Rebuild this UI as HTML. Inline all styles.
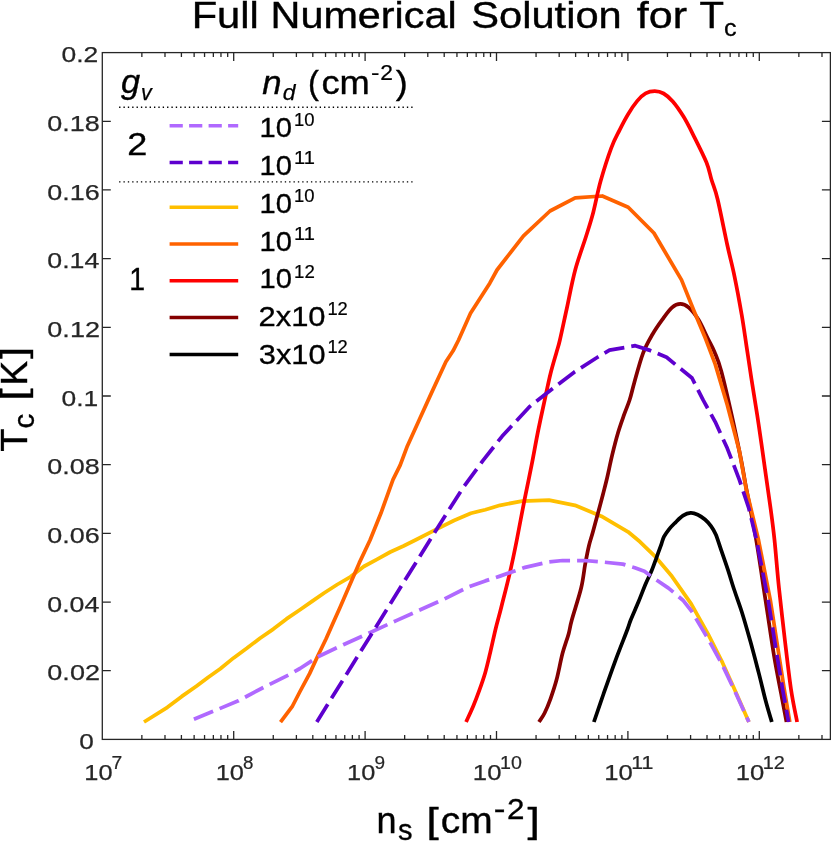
<!DOCTYPE html>
<html><head><meta charset="utf-8"><title>Full Numerical Solution for Tc</title>
<style>html,body{margin:0;padding:0;background:#fff}body{width:831px;height:841px;overflow:hidden}svg{display:block;will-change:transform}text{font-family:"Liberation Sans",sans-serif}</style></head><body>
<svg width="831" height="841" viewBox="0 0 831 841">
<rect width="831" height="841" fill="#fff"/>
<clipPath id="cp"><rect x="102.3" y="52.6" width="728.1" height="686.8"/></clipPath>
<g clip-path="url(#cp)" fill="none" stroke-linejoin="round" stroke-linecap="butt">
<path d="M144.0,722.0 L167.4,707.3 L181.8,696.4 L196.3,686.3 L208.3,677.2 L220.3,668.8 L233.6,657.9 L246.8,648.3 L260.0,638.2 L273.3,629.1 L286.5,618.9 L300.0,609.8 L312.0,601.4 L324.1,593.0 L337.3,584.5 L350.5,576.8 L363.8,566.5 L377.0,559.3 L390.3,552.0 L403.5,546.0 L415.5,540.0 L434.8,530.1 L454.0,520.5 L470.9,513.3 L485.3,509.7 L500.0,505.3 L522.0,501.1 L549.0,500.2 L575.0,505.3 L601.3,516.2 L628.0,531.8 L640.0,541.8 L655.0,556.3 L671.9,576.3 L691.2,603.8 L708.0,633.9 L722.5,662.7 L734.5,689.2 L748.9,722.0" stroke="#FFBF00" stroke-width="3.75"/>
<path d="M593.9,722.0 C595.5,717.3 599.9,704.3 603.5,694.0 C607.1,683.7 611.5,671.1 615.5,660.3 C619.5,649.5 625.1,635.7 627.6,629.0 C630.1,622.3 628.9,624.5 630.7,620.0 C632.5,615.5 636.0,607.8 638.5,601.8 C641.0,595.8 643.5,589.0 645.7,583.8 C647.9,578.6 649.9,574.9 651.7,570.5 C653.5,566.1 655.0,561.7 656.6,557.3 C658.2,552.9 660.2,547.5 661.4,544.1 C662.6,540.7 662.7,539.1 664.0,536.6 C665.3,534.1 667.1,531.7 669.0,529.3 C670.9,526.9 673.3,524.6 675.6,522.3 C677.9,520.0 680.5,517.2 683.0,515.6 C685.5,514.0 688.2,513.0 690.7,512.9 C693.2,512.8 695.4,513.6 697.8,514.7 C700.2,515.8 702.8,517.6 705.0,519.5 C707.2,521.4 709.2,523.6 711.0,526.1 C712.8,528.6 714.1,530.5 715.8,534.5 C717.5,538.5 719.2,544.4 721.2,550.2 C723.2,556.0 725.6,562.8 727.8,569.4 C730.0,576.0 731.9,582.9 734.3,590.0 C736.6,597.1 739.2,603.7 741.9,612.2 C744.6,620.7 747.5,631.1 750.3,641.1 C753.1,651.1 756.0,662.4 758.6,672.4 C761.2,682.4 763.6,693.0 765.8,701.3 C768.0,709.6 770.8,718.5 771.8,722.0" stroke="#000000" stroke-width="3.75"/>
<path d="M539.0,722.0 C539.9,720.5 542.6,717.2 544.5,713.3 C546.4,709.4 548.5,704.4 550.5,698.8 C552.5,693.2 554.6,687.2 556.6,679.6 C558.6,672.0 560.6,660.7 562.6,653.1 C564.6,645.5 567.1,639.4 568.6,633.9 C570.1,628.4 569.7,627.7 571.8,620.0 C573.9,612.3 579.0,597.1 581.2,587.8 C583.4,578.5 583.9,571.2 585.2,564.2 C586.5,557.2 587.7,550.8 589.0,545.5 C590.3,540.2 591.4,537.4 592.8,532.2 C594.2,527.0 595.9,520.7 597.6,514.5 C599.3,508.3 601.3,500.8 602.8,495.0 C604.3,489.2 605.0,486.6 606.6,480.0 C608.2,473.4 610.2,463.3 612.1,455.4 C614.0,447.5 616.1,439.3 618.1,432.5 C620.1,425.7 622.3,419.8 624.2,414.4 C626.1,409.0 627.9,405.2 629.6,400.0 C631.3,394.8 632.0,390.8 634.2,383.0 C636.4,375.2 639.9,361.5 643.0,353.3 C646.1,345.1 649.5,339.6 652.7,334.0 C655.9,328.4 659.1,324.0 662.3,319.6 C665.5,315.2 668.9,310.2 671.9,307.6 C674.9,305.0 677.5,303.9 680.3,303.9 C683.1,303.9 685.8,305.0 688.8,307.6 C691.8,310.2 695.2,314.4 698.4,319.6 C701.6,324.8 705.3,333.4 708.0,338.8 C710.7,344.2 712.3,346.6 714.5,352.0 C716.7,357.4 718.4,360.5 721.3,371.3 C724.2,382.1 728.8,402.2 732.1,417.0 C735.4,431.8 738.8,448.3 741.2,460.3 C743.6,472.3 743.9,475.9 746.4,489.2 C748.9,502.5 753.0,521.5 756.2,540.0 C759.4,558.5 762.5,580.8 765.5,600.0 C768.5,619.2 771.4,639.8 774.0,655.5 C776.6,671.2 779.1,682.9 781.2,694.0 C783.3,705.1 785.6,717.3 786.5,722.0" stroke="#840000" stroke-width="3.75"/>
<path d="M280.5,722.0 L292.5,706.0 L300.0,691.5 L309.6,673.6 L318.0,655.5 L326.1,638.7 L332.5,624.2 L340.0,607.4 L352.0,579.7 L359.3,562.9 L370.1,540.0 L380.9,513.3 L393.0,479.6 L400.2,465.2 L407.4,445.9 L419.4,419.4 L431.5,392.9 L445.9,361.7 L453.1,350.8 L458.6,340.0 L470.5,313.3 L489.8,283.2 L497.0,270.0 L523.5,235.8 L550.0,211.0 L575.2,197.8 L602.3,196.0 L628.2,207.2 L653.9,233.0 L681.5,279.9 L693.6,310.0 L705.6,338.8 L715.2,364.1 L727.3,405.0 L739.3,450.7 L746.2,489.2 L758.5,540.0 L770.3,600.0 L777.5,646.0 L784.2,689.0 L789.8,722.0" stroke="#FF6200" stroke-width="3.75"/>
<path d="M466.1,722.0 C467.3,719.3 471.1,711.3 473.3,706.0 C475.5,700.7 477.3,696.0 479.3,690.4 C481.3,684.8 483.5,678.6 485.3,672.4 C487.1,666.2 488.4,660.3 490.1,653.1 C491.8,645.9 493.8,636.5 495.6,629.0 C497.4,621.5 498.7,617.6 501.1,608.0 C503.5,598.4 507.6,582.6 510.2,571.3 C512.8,560.0 514.4,552.1 516.8,540.0 C519.2,527.9 522.2,511.3 524.7,498.8 C527.2,486.3 529.3,476.8 531.6,465.2 C533.9,453.6 536.1,440.6 538.5,429.0 C540.9,417.4 543.7,404.6 545.7,395.4 C547.7,386.2 548.7,380.9 550.5,373.7 C552.3,366.5 555.0,357.6 556.6,352.0 C558.2,346.4 558.2,347.2 559.9,340.0 C561.6,332.8 564.2,320.2 566.8,308.5 C569.3,296.8 572.0,282.0 575.2,270.0 C578.4,258.0 583.1,245.9 586.1,236.3 C589.1,226.7 590.9,221.3 593.3,212.2 C595.7,203.1 597.5,192.2 600.5,181.5 C603.5,170.8 608.1,156.4 611.3,147.8 C614.5,139.2 616.9,135.4 619.7,129.8 C622.5,124.2 625.2,119.0 628.1,114.2 C631.0,109.4 634.4,104.4 637.3,100.9 C640.2,97.4 642.7,95.0 645.6,93.4 C648.5,91.8 651.8,91.2 654.8,91.2 C657.8,91.2 660.6,91.8 663.6,93.5 C666.6,95.2 669.5,97.7 672.8,101.5 C676.1,105.3 680.1,111.1 683.5,116.6 C686.9,122.1 689.3,127.0 693.1,134.6 C696.9,142.2 703.3,154.7 706.4,162.3 C709.5,169.9 709.7,173.8 711.6,180.0 C713.5,186.2 715.0,188.5 717.6,199.3 C720.2,210.1 724.5,232.2 727.3,245.0 C730.1,257.8 732.1,264.7 734.5,276.3 C736.9,287.9 739.7,303.2 741.7,314.8 C743.7,326.4 744.9,335.6 746.5,346.1 C748.1,356.6 749.3,365.0 751.3,378.0 C753.3,391.0 756.2,408.1 758.6,424.2 C761.0,440.3 763.8,460.8 765.8,474.8 C767.8,488.9 769.1,497.6 770.6,508.5 C772.1,519.4 773.1,526.7 774.5,540.0 C775.9,553.3 777.2,571.2 779.0,588.1 C780.8,605.0 783.0,624.2 785.0,641.1 C787.0,658.0 789.0,675.7 791.0,689.2 C793.0,702.7 796.1,716.5 797.1,722.0" stroke="#FF0000" stroke-width="3.75"/>
<path d="M193.9,719.3 L238.4,700.8 L263.7,687.3 L288.9,674.8 L300.0,668.5 L318.0,656.7 L343.3,644.7 L369.8,632.7 L396.3,620.6 L420.3,609.8 L444.4,599.0 L468.5,586.9 L485.3,580.9 L500.0,576.1 L524.0,567.7 L548.1,562.1 L562.6,560.5 L584.2,560.5 L603.5,562.1 L622.7,564.1 L634.8,567.7 L644.4,571.3 L650.4,575.8 L668.5,588.1 L682.9,600.2 L691.5,611.0 L700.0,625.4 L708.0,638.7 L722.5,665.2 L734.5,690.4 L748.9,722.0" stroke="#B069FF" stroke-width="3.75" stroke-dasharray="20.8 7.05"/>
<path d="M316.8,722.0 L430.0,540.0 L444.4,516.9 L463.7,486.8 L482.9,460.6 L502.1,436.3 L529.5,406.7 L551.8,389.2 L574.2,372.2 L596.3,358.0 L609.5,350.1 L635.3,345.7 L649.2,350.1 L666.6,357.2 L679.3,367.7 L692.0,378.0 L703.2,400.2 L715.2,421.8 L727.3,448.3 L739.3,479.6 L748.9,508.5 L756.5,540.0 L768.2,600.2 L775.4,645.9 L782.6,689.2 L788.6,722.0" stroke="#5E00CE" stroke-width="3.75" stroke-dasharray="20.8 7.05"/>
</g>
<g stroke="#262626" stroke-width="1.3" fill="none">
<rect x="102.3" y="52.6" width="728.1" height="686.8"/>
<path d="M141.86,739.4v-4.5M141.86,52.6v4.5M164.99,739.4v-4.5M164.99,52.6v4.5M181.41,739.4v-4.5M181.41,52.6v4.5M194.14,739.4v-4.5M194.14,52.6v4.5M204.55,739.4v-4.5M204.55,52.6v4.5M213.35,739.4v-4.5M213.35,52.6v4.5M220.97,739.4v-4.5M220.97,52.6v4.5M227.69,739.4v-4.5M227.69,52.6v4.5M233.70,739.4v-8.5M233.70,52.6v8.5M273.26,739.4v-4.5M273.26,52.6v4.5M296.39,739.4v-4.5M296.39,52.6v4.5M312.81,739.4v-4.5M312.81,52.6v4.5M325.54,739.4v-4.5M325.54,52.6v4.5M335.95,739.4v-4.5M335.95,52.6v4.5M344.75,739.4v-4.5M344.75,52.6v4.5M352.37,739.4v-4.5M352.37,52.6v4.5M359.09,739.4v-4.5M359.09,52.6v4.5M365.10,739.4v-8.5M365.10,52.6v8.5M404.66,739.4v-4.5M404.66,52.6v4.5M427.79,739.4v-4.5M427.79,52.6v4.5M444.21,739.4v-4.5M444.21,52.6v4.5M456.94,739.4v-4.5M456.94,52.6v4.5M467.35,739.4v-4.5M467.35,52.6v4.5M476.15,739.4v-4.5M476.15,52.6v4.5M483.77,739.4v-4.5M483.77,52.6v4.5M490.49,739.4v-4.5M490.49,52.6v4.5M496.50,739.4v-8.5M496.50,52.6v8.5M536.06,739.4v-4.5M536.06,52.6v4.5M559.19,739.4v-4.5M559.19,52.6v4.5M575.61,739.4v-4.5M575.61,52.6v4.5M588.34,739.4v-4.5M588.34,52.6v4.5M598.75,739.4v-4.5M598.75,52.6v4.5M607.55,739.4v-4.5M607.55,52.6v4.5M615.17,739.4v-4.5M615.17,52.6v4.5M621.89,739.4v-4.5M621.89,52.6v4.5M627.90,739.4v-8.5M627.90,52.6v8.5M667.46,739.4v-4.5M667.46,52.6v4.5M690.59,739.4v-4.5M690.59,52.6v4.5M707.01,739.4v-4.5M707.01,52.6v4.5M719.74,739.4v-4.5M719.74,52.6v4.5M730.15,739.4v-4.5M730.15,52.6v4.5M738.95,739.4v-4.5M738.95,52.6v4.5M746.57,739.4v-4.5M746.57,52.6v4.5M753.29,739.4v-4.5M753.29,52.6v4.5M759.30,739.4v-8.5M759.30,52.6v8.5M798.86,739.4v-4.5M798.86,52.6v4.5M821.99,739.4v-4.5M821.99,52.6v4.5M102.3,670.72h8.5M830.4,670.72h-8.5M102.3,602.04h8.5M830.4,602.04h-8.5M102.3,533.36h8.5M830.4,533.36h-8.5M102.3,464.68h8.5M830.4,464.68h-8.5M102.3,396.00h8.5M830.4,396.00h-8.5M102.3,327.32h8.5M830.4,327.32h-8.5M102.3,258.64h8.5M830.4,258.64h-8.5M102.3,189.96h8.5M830.4,189.96h-8.5M102.3,121.28h8.5M830.4,121.28h-8.5"/>
</g>
<text x="191.66" y="28" font-size="37.5" fill="#000" stroke="#000" stroke-width="0.41" textLength="67.1" lengthAdjust="spacingAndGlyphs">Full</text>
<text x="270.59" y="28" font-size="37.5" fill="#000" stroke="#000" stroke-width="0.41" textLength="186.04" lengthAdjust="spacingAndGlyphs">Numerical</text>
<text x="471.33" y="28" font-size="37.5" fill="#000" stroke="#000" stroke-width="0.41" textLength="150.33" lengthAdjust="spacingAndGlyphs">Solution</text>
<text x="636.86" y="28" font-size="37.5" fill="#000" stroke="#000" stroke-width="0.41" textLength="50.17" lengthAdjust="spacingAndGlyphs">for</text>
<text x="699.6" y="28" font-size="37.5" fill="#000" stroke="#000" stroke-width="0.41" textLength="24.54" lengthAdjust="spacingAndGlyphs">T</text>
<text x="724.13" y="36.2" font-size="24.5" fill="#000" stroke="#000" stroke-width="0.27" textLength="12.56" lengthAdjust="spacingAndGlyphs">c</text>
<text x="79.25" y="748.9" font-size="22.8" fill="#262626" stroke="#262626" stroke-width="0.25" textLength="14.56" lengthAdjust="spacingAndGlyphs">0</text>
<text x="47.32" y="680.2" font-size="22.8" fill="#262626" stroke="#262626" stroke-width="0.25" textLength="52.67" lengthAdjust="spacingAndGlyphs">0.02</text>
<text x="47.33" y="611.5" font-size="22.8" fill="#262626" stroke="#262626" stroke-width="0.25" textLength="52.04" lengthAdjust="spacingAndGlyphs">0.04</text>
<text x="47.32" y="542.9" font-size="22.8" fill="#262626" stroke="#262626" stroke-width="0.25" textLength="52.46" lengthAdjust="spacingAndGlyphs">0.06</text>
<text x="47.32" y="474.2" font-size="22.8" fill="#262626" stroke="#262626" stroke-width="0.25" textLength="52.46" lengthAdjust="spacingAndGlyphs">0.08</text>
<text x="61.54" y="405.5" font-size="22.8" fill="#262626" stroke="#262626" stroke-width="0.25" textLength="36.72" lengthAdjust="spacingAndGlyphs">0.1</text>
<text x="47.32" y="336.8" font-size="22.8" fill="#262626" stroke="#262626" stroke-width="0.25" textLength="52.67" lengthAdjust="spacingAndGlyphs">0.12</text>
<text x="47.33" y="268.1" font-size="22.8" fill="#262626" stroke="#262626" stroke-width="0.25" textLength="52.04" lengthAdjust="spacingAndGlyphs">0.14</text>
<text x="47.32" y="199.5" font-size="22.8" fill="#262626" stroke="#262626" stroke-width="0.25" textLength="52.46" lengthAdjust="spacingAndGlyphs">0.16</text>
<text x="47.32" y="130.8" font-size="22.8" fill="#262626" stroke="#262626" stroke-width="0.25" textLength="52.46" lengthAdjust="spacingAndGlyphs">0.18</text>
<text x="61.54" y="62.1" font-size="22.8" fill="#262626" stroke="#262626" stroke-width="0.25" textLength="36.79" lengthAdjust="spacingAndGlyphs">0.2</text>
<text x="84.3" y="780.2" font-size="22.8" fill="#262626" stroke="#262626" stroke-width="0.25" textLength="28.21" lengthAdjust="spacingAndGlyphs">10</text>
<text x="111.53" y="768.6" font-size="18.3" fill="#262626" stroke="#262626" stroke-width="0.2" textLength="10.76" lengthAdjust="spacingAndGlyphs">7</text>
<text x="215.7" y="780.2" font-size="22.8" fill="#262626" stroke="#262626" stroke-width="0.25" textLength="28.21" lengthAdjust="spacingAndGlyphs">10</text>
<text x="243.1" y="768.6" font-size="18.3" fill="#262626" stroke="#262626" stroke-width="0.2" textLength="10.41" lengthAdjust="spacingAndGlyphs">8</text>
<text x="347.1" y="780.2" font-size="22.8" fill="#262626" stroke="#262626" stroke-width="0.25" textLength="28.21" lengthAdjust="spacingAndGlyphs">10</text>
<text x="374.4" y="768.6" font-size="18.3" fill="#262626" stroke="#262626" stroke-width="0.2" textLength="10.58" lengthAdjust="spacingAndGlyphs">9</text>
<text x="472.88" y="780.2" font-size="22.8" fill="#262626" stroke="#262626" stroke-width="0.25" textLength="28.55" lengthAdjust="spacingAndGlyphs">10</text>
<text x="500.03" y="768.6" font-size="18.3" fill="#262626" stroke="#262626" stroke-width="0.2" textLength="21.86" lengthAdjust="spacingAndGlyphs">10</text>
<text x="604.28" y="780.2" font-size="22.8" fill="#262626" stroke="#262626" stroke-width="0.25" textLength="28.55" lengthAdjust="spacingAndGlyphs">10</text>
<text x="631.29" y="768.6" font-size="18.3" fill="#262626" stroke="#262626" stroke-width="0.2" textLength="22.24" lengthAdjust="spacingAndGlyphs">11</text>
<text x="735.68" y="780.2" font-size="22.8" fill="#262626" stroke="#262626" stroke-width="0.25" textLength="28.55" lengthAdjust="spacingAndGlyphs">10</text>
<text x="762.81" y="768.6" font-size="18.3" fill="#262626" stroke="#262626" stroke-width="0.2" textLength="22.13" lengthAdjust="spacingAndGlyphs">12</text>
<text x="376.47" y="833" font-size="36.5" fill="#000" stroke="#000" stroke-width="0.4" textLength="20.02" lengthAdjust="spacingAndGlyphs">n</text>
<text x="398.1" y="840.3" font-size="29" fill="#000" stroke="#000" stroke-width="0.32" textLength="14.51" lengthAdjust="spacingAndGlyphs">s</text>
<text x="426.52" y="832.6" font-size="35" fill="#000" stroke="#000" stroke-width="0.38" textLength="12.23" lengthAdjust="spacingAndGlyphs">[</text>
<text x="440.75" y="833" font-size="36.5" fill="#000" stroke="#000" stroke-width="0.4" textLength="51.91" lengthAdjust="spacingAndGlyphs">cm</text>
<text x="493.72" y="819.2" font-size="29" fill="#000" stroke="#000" stroke-width="0.32" textLength="11.69" lengthAdjust="spacingAndGlyphs">-</text>
<text x="506.93" y="819.2" font-size="29" fill="#000" stroke="#000" stroke-width="0.32" textLength="17.48" lengthAdjust="spacingAndGlyphs">2</text>
<text x="527.57" y="832.6" font-size="35" fill="#000" stroke="#000" stroke-width="0.38" textLength="12.23" lengthAdjust="spacingAndGlyphs">]</text>
<g transform="translate(0,452) rotate(-90)">
<text x="0.25" y="26.8" font-size="36.5" fill="#000" stroke="#000" stroke-width="0.4" textLength="23.14" lengthAdjust="spacingAndGlyphs">T</text>
<text x="23.54" y="34.0" font-size="30" fill="#000" stroke="#000" stroke-width="0.33" textLength="14.77" lengthAdjust="spacingAndGlyphs">c</text>
<text x="51.18" y="26.0" font-size="35" fill="#000" stroke="#000" stroke-width="0.38" textLength="12.36" lengthAdjust="spacingAndGlyphs">[</text>
<text x="66.56" y="26.8" font-size="36.5" fill="#000" stroke="#000" stroke-width="0.4" textLength="24.58" lengthAdjust="spacingAndGlyphs">K</text>
<text x="93.28" y="26.0" font-size="35" fill="#000" stroke="#000" stroke-width="0.38" textLength="11.81" lengthAdjust="spacingAndGlyphs">]</text>
</g>
<text x="120.91" y="93.3" font-size="32.5" fill="#000" stroke="#000" stroke-width="0.36" textLength="19.08" lengthAdjust="spacingAndGlyphs" font-style="italic">g</text>
<text x="141.12" y="100.0" font-size="22.4" fill="#000" stroke="#000" stroke-width="0.25" textLength="10.76" lengthAdjust="spacingAndGlyphs" font-style="italic">v</text>
<text x="262.29" y="93.5" font-size="32.5" fill="#000" stroke="#000" stroke-width="0.36" textLength="19.31" lengthAdjust="spacingAndGlyphs" font-style="italic">n</text>
<text x="282.86" y="100.0" font-size="22.4" fill="#000" stroke="#000" stroke-width="0.25" textLength="12.74" lengthAdjust="spacingAndGlyphs" font-style="italic">d</text>
<text x="308.05" y="93.5" font-size="33.5" fill="#000" stroke="#000" stroke-width="0.37" textLength="10.93" lengthAdjust="spacingAndGlyphs">(</text>
<text x="321.46" y="93.5" font-size="32.5" fill="#000" stroke="#000" stroke-width="0.36" textLength="48.42" lengthAdjust="spacingAndGlyphs">cm</text>
<text x="371.06" y="80.4" font-size="22" fill="#000" stroke="#000" stroke-width="0.24" textLength="8.43" lengthAdjust="spacingAndGlyphs">-</text>
<text x="380.26" y="80.4" font-size="22" fill="#000" stroke="#000" stroke-width="0.24" textLength="12.71" lengthAdjust="spacingAndGlyphs">2</text>
<text x="395.73" y="93.5" font-size="33.5" fill="#000" stroke="#000" stroke-width="0.37" textLength="11.94" lengthAdjust="spacingAndGlyphs">)</text>
<path d="M119.1,107.25H413M119.1,181.85H413" stroke="#000" stroke-width="1.3" stroke-dasharray="1.35 3.01" fill="none"/>
<text x="127.3" y="154.6" font-size="30.5" fill="#000" stroke="#000" stroke-width="0.34" textLength="20.05" lengthAdjust="spacingAndGlyphs">2</text>
<text x="129.17" y="289.9" font-size="30.5" fill="#000" stroke="#000" stroke-width="0.34" textLength="15.82" lengthAdjust="spacingAndGlyphs">1</text>
<path d="M169.6,125.8H238.2" stroke="#B069FF" stroke-width="3.5" fill="none" stroke-dasharray="13.2 6.3"/>
<text x="259.61" y="136.7" font-size="27.3" fill="#000" stroke="#000" stroke-width="0.3" textLength="32.45" lengthAdjust="spacingAndGlyphs">10</text>
<text x="294.12" y="125.9" font-size="18" fill="#000" stroke="#000" stroke-width="0.2" textLength="20.52" lengthAdjust="spacingAndGlyphs">10</text>
<path d="M169.6,162.6H238.2" stroke="#5E00CE" stroke-width="3.5" fill="none" stroke-dasharray="13.2 6.3"/>
<text x="259.61" y="174.7" font-size="27.3" fill="#000" stroke="#000" stroke-width="0.3" textLength="32.45" lengthAdjust="spacingAndGlyphs">10</text>
<text x="293.99" y="163.9" font-size="18" fill="#000" stroke="#000" stroke-width="0.2" textLength="20.88" lengthAdjust="spacingAndGlyphs">11</text>
<path d="M169.6,207.2H238.2" stroke="#FFBF00" stroke-width="3.5" fill="none"/>
<text x="259.61" y="212.6" font-size="27.3" fill="#000" stroke="#000" stroke-width="0.3" textLength="32.45" lengthAdjust="spacingAndGlyphs">10</text>
<text x="294.12" y="201.8" font-size="18" fill="#000" stroke="#000" stroke-width="0.2" textLength="20.52" lengthAdjust="spacingAndGlyphs">10</text>
<path d="M169.6,244H238.2" stroke="#FF6200" stroke-width="3.5" fill="none"/>
<text x="259.61" y="250.6" font-size="27.3" fill="#000" stroke="#000" stroke-width="0.3" textLength="32.45" lengthAdjust="spacingAndGlyphs">10</text>
<text x="293.99" y="239.8" font-size="18" fill="#000" stroke="#000" stroke-width="0.2" textLength="20.88" lengthAdjust="spacingAndGlyphs">11</text>
<path d="M169.6,280.8H238.2" stroke="#FF0000" stroke-width="3.5" fill="none"/>
<text x="259.61" y="288.3" font-size="27.3" fill="#000" stroke="#000" stroke-width="0.3" textLength="32.45" lengthAdjust="spacingAndGlyphs">10</text>
<text x="294.1" y="277.5" font-size="18" fill="#000" stroke="#000" stroke-width="0.2" textLength="20.78" lengthAdjust="spacingAndGlyphs">12</text>
<path d="M169.6,317.4H238.2" stroke="#840000" stroke-width="3.5" fill="none"/>
<text x="258.45" y="326.0" font-size="27.3" fill="#000" stroke="#000" stroke-width="0.3" textLength="67.14" lengthAdjust="spacingAndGlyphs">2x10</text>
<text x="327.42" y="315.2" font-size="18" fill="#000" stroke="#000" stroke-width="0.2" textLength="20.44" lengthAdjust="spacingAndGlyphs">12</text>
<path d="M169.6,354.6H238.2" stroke="#000000" stroke-width="3.5" fill="none"/>
<text x="258.85" y="364.1" font-size="27.3" fill="#000" stroke="#000" stroke-width="0.3" textLength="66.74" lengthAdjust="spacingAndGlyphs">3x10</text>
<text x="327.42" y="353.3" font-size="18" fill="#000" stroke="#000" stroke-width="0.2" textLength="20.44" lengthAdjust="spacingAndGlyphs">12</text>
</svg></body></html>
